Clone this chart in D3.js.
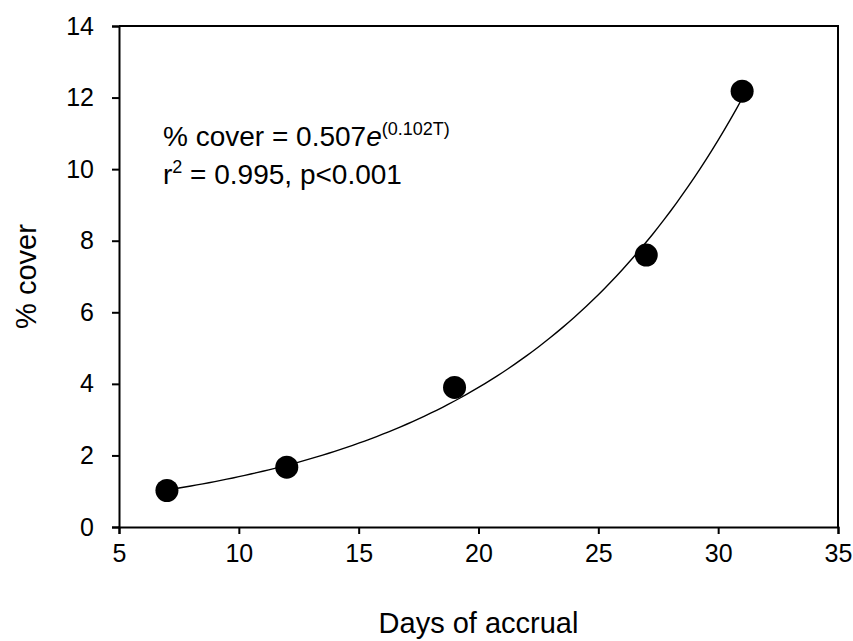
<!DOCTYPE html>
<html>
<head>
<meta charset="utf-8">
<script src="https://cdn.jsdelivr.net/npm/d3@7"></script>
<style>
  html, body { margin: 0; padding: 0; background: #fff; }
  svg { display: block; font-family: Arial, "Liberation Sans", sans-serif; }
</style>
</head>
<body>
<svg id="chart" width="853" height="641"></svg>
<script>
// Observed cover at each accrual time
const days = [7, 12, 19, 27, 31];
const cover = [1.02, 1.67, 3.9, 7.6, 12.18];

// Exponential fit: % cover = a * e^(b T)
const fitA = 0.507;
const fitB = 0.102;

const xTicks = [5, 10, 15, 20, 25, 30, 35];
const yTicks = [0, 2, 4, 6, 8, 10, 12, 14];

const svg = d3.select("#chart");
const plotL = 119, plotR = 838, plotT = 26, plotB = 527;

const x = d3.scaleLinear().domain([5, 35]).range([plotL, plotR]);
const y = d3.scaleLinear().domain([0, 14]).range([plotB, plotT]);

// Frame (top and right edges)
svg.append("path")
  .attr("d", `M${plotL},${plotT}H${plotR}V${plotB}`)
  .attr("fill", "none").attr("stroke", "#000").attr("stroke-width", 2);

const xAxis = svg.append("g")
  .attr("transform", `translate(0,${plotB})`)
  .call(d3.axisBottom(x).tickValues(xTicks).tickSize(7).tickPadding(10));
const yAxis = svg.append("g")
  .attr("transform", `translate(${plotL},0)`)
  .call(d3.axisLeft(y).tickValues(yTicks).tickSize(7).tickPadding(18));

[xAxis, yAxis].forEach(g => {
  g.select(".domain").attr("stroke", "#000").attr("stroke-width", 2);
  g.selectAll(".tick line").attr("stroke", "#000").attr("stroke-width", 2);
  g.selectAll(".tick text").attr("fill", "#000").style("font-size", "25px")
    .style("font-family", "Arial, 'Liberation Sans', sans-serif");
});

// Fitted curve over the sampled range
const tVals = d3.range(days[0], days[days.length - 1] + 0.001, 0.25);
const line = d3.line()
  .x(t => x(t))
  .y(t => y(fitA * Math.exp(fitB * t)));
svg.append("path")
  .datum(tVals)
  .attr("d", line)
  .attr("fill", "none").attr("stroke", "#000").attr("stroke-width", 1.4);

// Observations
svg.append("g").selectAll("circle")
  .data(days.map((d, i) => [d, cover[i]]))
  .join("circle")
  .attr("cx", d => x(d[0]))
  .attr("cy", d => y(d[1]))
  .attr("r", 11.5)
  .attr("fill", "#000");

// Equation annotation
const eq = svg.append("text")
  .attr("x", 163).attr("y", 146)
  .style("font-size", "28px").attr("fill", "#000");
eq.append("tspan").text(`% cover = ${fitA}`);
eq.append("tspan").style("font-style", "italic").text("e");
eq.append("tspan").attr("dy", -11).style("font-size", "18px").text(`(${fitB}T)`);

const r2 = svg.append("text")
  .attr("x", 163).attr("y", 184)
  .style("font-size", "28px").attr("fill", "#000");
r2.append("tspan").text("r");
r2.append("tspan").attr("dy", -11).style("font-size", "18px").text("2");
r2.append("tspan").attr("dy", 11).text(" = 0.995, p<0.001");

// Axis titles
svg.append("text")
  .attr("x", (plotL + plotR) / 2).attr("y", 633)
  .attr("text-anchor", "middle").style("font-size", "29px").attr("fill", "#000")
  .text("Days of accrual");
svg.append("text")
  .attr("transform", `translate(36,${(plotT + plotB) / 2}) rotate(-90)`)
  .attr("text-anchor", "middle").style("font-size", "29px").attr("fill", "#000")
  .text("% cover");
</script>
</body>
</html>
